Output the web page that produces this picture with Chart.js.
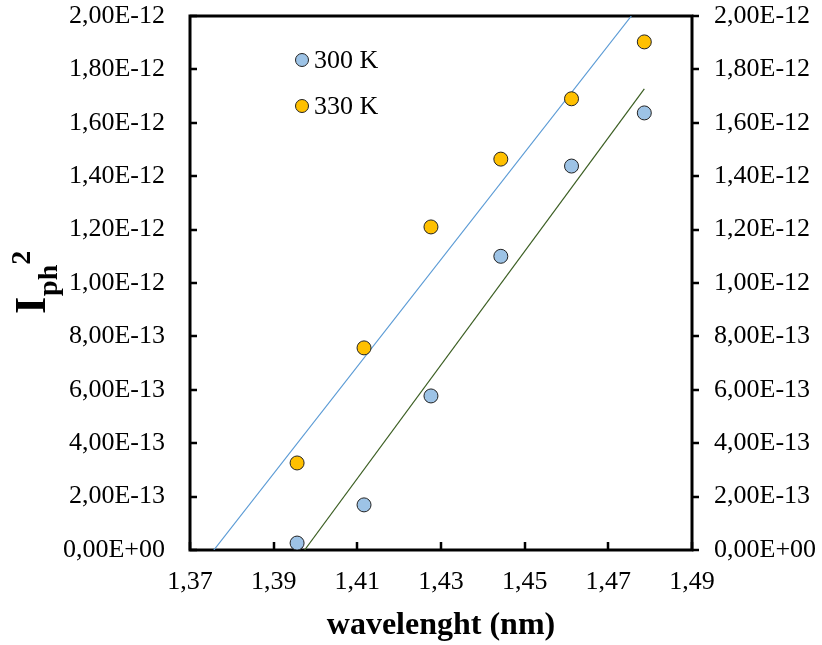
<!DOCTYPE html>
<html>
<head>
<meta charset="utf-8">
<script src="https://cdn.jsdelivr.net/npm/chart.js@4"></script>
<style>
  body { margin: 0; background: #fff; }
</style>
</head>
<body>
<canvas id="myChart" width="822" height="645"></canvas>
<script>
var wavelength = [1.3956, 1.4116, 1.4276, 1.4443, 1.4612, 1.4786];
var iph300 = [0.26e-13, 1.69e-13, 5.77e-13, 11.0e-13, 14.38e-13, 16.37e-13];
var iph330 = [3.26e-13, 7.57e-13, 12.1e-13, 14.64e-13, 16.9e-13, 19.03e-13];

// trend lines (end points)
var fit300X = [1.3974, 1.4786];
var fit300Y = [0, 17.27e-13];
var fit330X = [1.3757, 1.4755];
var fit330Y = [0, 20.0e-13];

var seriesLabels = ['300 K', '330 K'];
var xTicks = [1.37, 1.39, 1.41, 1.43, 1.45, 1.47, 1.49];
var yTicks = [0, 2e-13, 4e-13, 6e-13, 8e-13, 10e-13, 12e-13, 14e-13, 16e-13, 18e-13, 20e-13];

var colors = ['#9DC3E6', '#FFC000'];
var fitColors = ['#3B5E22', '#5B9BD5'];
var serif = 'Liberation Serif';

function pts(xs, ys) {
    return xs.map(function (x, i) { return { x: x, y: ys[i] }; });
}

function sci(v) {
    if (Math.abs(v) < 1e-20) return '0,00E+00';
    var e = Math.floor(Math.log10(Math.abs(v)) + 1e-9);
    var m = v / Math.pow(10, e);
    if (m.toFixed(2) === '10.00') { m = m / 10; e++; }
    var es = (e < 0 ? '-' : '+') + String(Math.abs(e)).padStart(2, '0');
    return m.toFixed(2).replace('.', ',') + 'E' + es;
}

function noPad(s) {
    s.paddingTop = 0; s.paddingBottom = 0; s.paddingLeft = 0; s.paddingRight = 0;
}

var frame = {
    id: 'frame',
    beforeDatasetsDraw: function (chart) {
        var ctx = chart.ctx, a = chart.chartArea;
        var sx = chart.scales.x, sy = chart.scales.y;
        ctx.save();
        ctx.strokeStyle = '#000';
        ctx.lineWidth = 2.5;
        ctx.beginPath();
        xTicks.forEach(function (t) {
            var px = Math.round(sx.getPixelForValue(t));
            ctx.moveTo(px, a.bottom);
            ctx.lineTo(px, a.bottom - 8);
        });
        yTicks.forEach(function (t) {
            var py = Math.round(sy.getPixelForValue(t));
            ctx.moveTo(a.left, py);
            ctx.lineTo(a.left + 7, py);
            ctx.moveTo(a.right, py);
            ctx.lineTo(a.right + 7, py);
        });
        ctx.stroke();
        ctx.lineWidth = 3;
        ctx.strokeRect(a.left, a.top, a.right - a.left, a.bottom - a.top);
        ctx.restore();
    },
    afterDraw: function (chart) {
        var ctx = chart.ctx, a = chart.chartArea;
        ctx.save();
        // legend
        seriesLabels.forEach(function (lab, i) {
            var cy = a.top + 44 + i * 46;
            ctx.beginPath();
            ctx.arc(a.left + 112, cy, 6.5, 0, Math.PI * 2);
            ctx.fillStyle = colors[i];
            ctx.fill();
            ctx.lineWidth = 1;
            ctx.strokeStyle = '#222';
            ctx.stroke();
            ctx.fillStyle = '#000';
            ctx.font = '26px "' + serif + '"';
            ctx.textBaseline = 'middle';
            ctx.textAlign = 'left';
            ctx.fillText(lab, a.left + 124, cy + 1);
        });
        // y title I_ph^2
        ctx.translate(45, 314);
        ctx.rotate(-Math.PI / 2);
        ctx.textBaseline = 'alphabetic';
        ctx.fillStyle = '#000';
        ctx.font = 'bold 44px "' + serif + '"';
        ctx.fillText('I', 0, 0);
        var w = ctx.measureText('I').width;
        ctx.font = 'bold 28px "' + serif + '"';
        ctx.fillText('ph', w + 1, 12);
        var w2 = ctx.measureText('ph').width;
        ctx.fillText('2', w + w2 + 1, -15);
        ctx.restore();
    }
};

var tickFont = { family: serif, size: 26 };

var ctx = document.getElementById('myChart').getContext('2d');
var myChart = new Chart(ctx, {
    type: 'scatter',
    data: {
        datasets: [
            {
                label: seriesLabels[0],
                data: pts(wavelength, iph300),
                backgroundColor: colors[0],
                borderColor: '#222',
                borderWidth: 1,
                pointRadius: 7,
                order: 1
            },
            {
                label: seriesLabels[1],
                data: pts(wavelength, iph330),
                backgroundColor: colors[1],
                borderColor: '#222',
                borderWidth: 1,
                pointRadius: 7,
                order: 1
            },
            {
                label: 'fit 300 K',
                data: pts(fit300X, fit300Y),
                showLine: true,
                borderColor: fitColors[0],
                borderWidth: 1.2,
                pointRadius: 0,
                order: 2
            },
            {
                label: 'fit 330 K',
                data: pts(fit330X, fit330Y),
                showLine: true,
                borderColor: fitColors[1],
                borderWidth: 1.2,
                pointRadius: 0,
                order: 2
            }
        ]
    },
    options: {
        responsive: false,
        animation: false,
        layout: { padding: { top: 16, left: 0, right: 0, bottom: 0 } },
        plugins: {
            legend: { display: false },
            tooltip: { enabled: false }
        },
        scales: {
            x: {
                type: 'linear',
                min: 1.37,
                max: 1.49,
                afterBuildTicks: function (s) { s.ticks = xTicks.map(function (v) { return { value: v }; }); },
                afterFit: function (s) { s.height = 95; noPad(s); },
                grid: { display: false, drawTicks: false },
                border: { display: false },
                ticks: {
                    padding: 17,
                    color: '#000',
                    font: tickFont,
                    maxRotation: 0,
                    callback: function (v) { return v.toFixed(2).replace('.', ','); }
                },
                title: {
                    display: true,
                    text: 'wavelenght (nm)',
                    color: '#000',
                    font: { family: serif, size: 32, weight: 'bold' },
                    padding: { top: 0, bottom: 0 }
                }
            },
            y: {
                type: 'linear',
                position: 'left',
                min: 0,
                max: 2e-12,
                afterBuildTicks: function (s) { s.ticks = yTicks.map(function (v) { return { value: v }; }); },
                afterFit: function (s) { s.width = 190; noPad(s); },
                grid: { display: false, drawTicks: false },
                border: { display: false },
                ticks: {
                    padding: 25,
                    color: '#000',
                    font: tickFont,
                    callback: function (v) { return sci(v); }
                }
            },
            y2: {
                type: 'linear',
                position: 'right',
                min: 0,
                max: 2e-12,
                afterBuildTicks: function (s) { s.ticks = yTicks.map(function (v) { return { value: v }; }); },
                afterFit: function (s) { s.width = 130; noPad(s); },
                grid: { display: false, drawTicks: false },
                border: { display: false },
                ticks: {
                    padding: 22,
                    color: '#000',
                    font: tickFont,
                    callback: function (v) { return sci(v); }
                }
            }
        }
    },
    plugins: [frame]
});
</script>
</body>
</html>
